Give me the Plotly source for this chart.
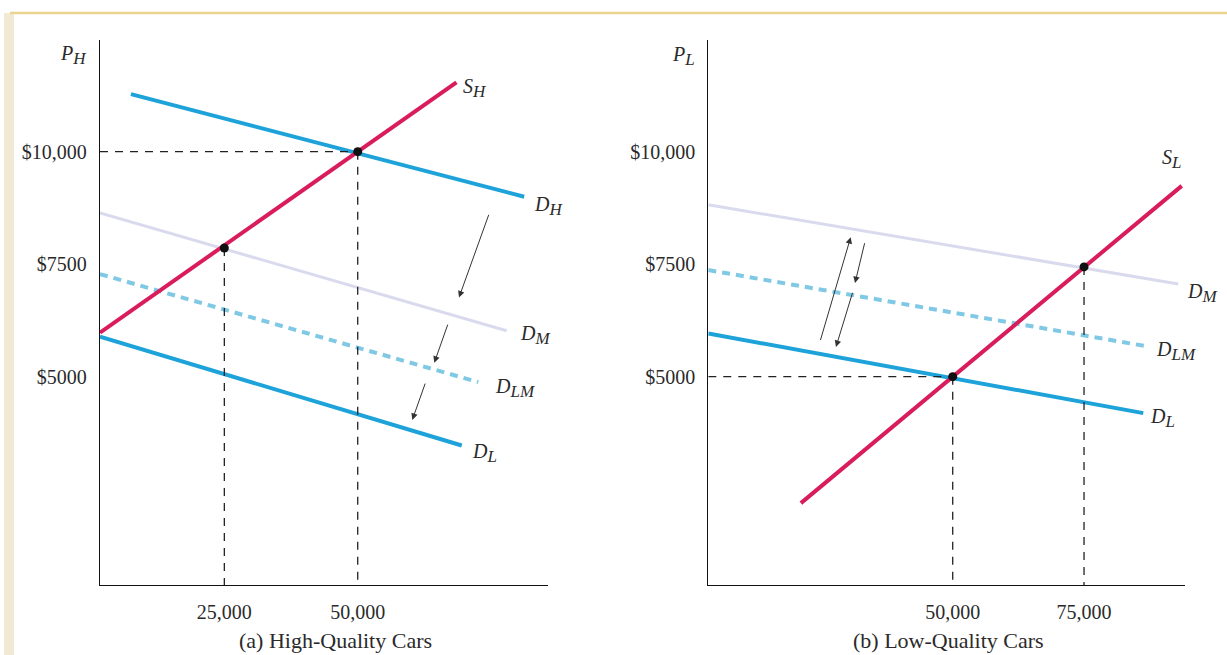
import plotly.graph_objects as go

W, H = 1227, 655

# ---------------- data (cars, dollars) ----------------
# Panel (a) High-Quality Cars
a_SH_x = [1700, 68500];  a_SH_y = [5980, 11540]
a_DH_x = [7500, 81200];  a_DH_y = [11280, 9000]
a_DM_x = [1700, 77900];  a_DM_y = [8640, 6020]
a_DLM_x = [1700, 72600]; a_DLM_y = [7280, 4880]
a_DL_x = [1700, 69500];  a_DL_y = [5890, 3470]
a_eq_x = [25000, 50000]; a_eq_y = [7860, 10000]
# arrows: (start_x, start_y, end_x, end_y)
a_arrows = [(74650, 8630, 68980, 6760),
            (66970, 6190, 64350, 5310),
            (62740, 4880, 60230, 4040)]

# Panel (b) Low-Quality Cars
b_SL_x = [21100, 93600];  b_SL_y = [2190, 9240]
b_DM_x = [3474, 92950];   b_DM_y = [8820, 7060]
b_DLM_x = [3474, 87240];  b_DLM_y = [7370, 5670]
b_DL_x = [3474, 86280];   b_DL_y = [5960, 4190]
b_eq_x = [50000, 75000];  b_eq_y = [5000, 7440]
b_arrows = [(24740, 5780, 30580, 8100),
            (33300, 8000, 31400, 7080),
            (31020, 6900, 27780, 5660)]

y_ticks = [5000, 7500, 10000]
y_ticktext = ["$5000", "$7500", "$10,000"]
a_xticks = [25000, 50000]; a_xticktext = ["25,000", "50,000"]
b_xticks = [50000, 75000]; b_xticktext = ["50,000", "75,000"]

a_xrange = [1700, 85660]
b_xrange = [3474, 94220]
y_range = [371, 12482]

# ---------------- styles ----------------
RED = "#D91C5C"
BLUE = "#1DA3D9"
LAV = "#DADAEE"
LBLUE = "#80C9E4"
FONT = "Liberation Serif"
TXT = "#2a2a2a"

fig = go.Figure()

def add_panel(xa, ya, curves, eq_x, eq_y, yrange_min):
    for (xs, ys, color, width, dash) in curves:
        fig.add_trace(go.Scatter(x=xs, y=ys, mode="lines", xaxis=xa, yaxis=ya,
                                 line=dict(color=color, width=width, dash=dash),
                                 showlegend=False, hoverinfo="skip"))
    for ex, ey in zip(eq_x, eq_y):
        fig.add_trace(go.Scatter(x=[ex, ex], y=[ey, yrange_min], mode="lines",
                                 xaxis=xa, yaxis=ya,
                                 line=dict(color="#222", width=1.3, dash="8px,7px"),
                                 showlegend=False, hoverinfo="skip"))

a_curves = [(a_DM_x, a_DM_y, LAV, 3, "solid"),
            (a_DLM_x, a_DLM_y, LBLUE, 4, "8px,6px"),
            (a_DL_x, a_DL_y, BLUE, 4, "solid"),
            (a_DH_x, a_DH_y, BLUE, 4, "solid"),
            (a_SH_x, a_SH_y, RED, 4, "solid")]
b_curves = [(b_DM_x, b_DM_y, LAV, 3, "solid"),
            (b_DLM_x, b_DLM_y, LBLUE, 4, "8px,6px"),
            (b_DL_x, b_DL_y, BLUE, 4, "solid"),
            (b_SL_x, b_SL_y, RED, 4, "solid")]

add_panel("x", "y", a_curves, a_eq_x, a_eq_y, y_range[0])
add_panel("x2", "y2", b_curves, b_eq_x, b_eq_y, y_range[0])

fig.add_trace(go.Scatter(x=[a_xrange[0], a_eq_x[1]], y=[a_eq_y[1], a_eq_y[1]], mode="lines",
                         line=dict(color="#222", width=1.3, dash="8px,7px"),
                         showlegend=False, hoverinfo="skip"))
fig.add_trace(go.Scatter(x=[b_xrange[0], b_eq_x[0]], y=[b_eq_y[0], b_eq_y[0]], mode="lines",
                         xaxis="x2", yaxis="y2",
                         line=dict(color="#222", width=1.3, dash="8px,7px"),
                         showlegend=False, hoverinfo="skip"))

fig.add_trace(go.Scatter(x=a_eq_x, y=a_eq_y, mode="markers",
                         marker=dict(color="#111", size=9),
                         showlegend=False, hoverinfo="skip"))
fig.add_trace(go.Scatter(x=b_eq_x, y=b_eq_y, mode="markers", xaxis="x2", yaxis="y2",
                         marker=dict(color="#111", size=9),
                         showlegend=False, hoverinfo="skip"))

annotations = []
for (sx, sy, ex, ey) in a_arrows:
    annotations.append(dict(x=ex, y=ey, ax=sx, ay=sy, xref="x", yref="y",
                            axref="x", ayref="y", text="", showarrow=True,
                            arrowhead=2, arrowsize=1.3, arrowwidth=1, arrowcolor="#333"))
for (sx, sy, ex, ey) in b_arrows:
    annotations.append(dict(x=ex, y=ey, ax=sx, ay=sy, xref="x2", yref="y2",
                            axref="x2", ayref="y2", text="", showarrow=True,
                            arrowhead=2, arrowsize=1.3, arrowwidth=1, arrowcolor="#333"))

def lab(text, x, y, xref, yref, xs, ys, anchor="left"):
    annotations.append(dict(text=text, x=x, y=y, xref=xref, yref=yref,
                            xshift=xs, yshift=ys, xanchor=anchor, yanchor="middle",
                            showarrow=False, font=dict(family=FONT, size=20, color=TXT)))

def sub(main, s):
    return f"<i>{main}</i><sub><span style='font-size:17px'><i>{s}</i></span></sub>"

lab(sub("S", "H"), a_SH_x[1], a_SH_y[1], "x", "y", 5, -6)
lab(sub("D", "H"), a_DH_x[1], a_DH_y[1], "x", "y", 8, -9)
lab(sub("D", "M"), a_DM_x[1], a_DM_y[1], "x", "y", 11, -4)
lab(sub("D", "LM"), a_DLM_x[1], a_DLM_y[1], "x", "y", 15, -6)
lab(sub("D", "L"), a_DL_x[1], a_DL_y[1], "x", "y", 8, -7)

lab(sub("S", "L"), b_SL_x[1], b_SL_y[1], "x2", "y2", -10, 27, anchor="center")
lab(sub("D", "M"), b_DM_x[1], b_DM_y[1], "x2", "y2", 7, -9)
lab(sub("D", "LM"), b_DLM_x[1], b_DLM_y[1], "x2", "y2", 6, -4)
lab(sub("D", "L"), b_DL_x[1], b_DL_y[1], "x2", "y2", 5, -5)

def paper(px, py):
    return px / W, 1 - py / H

for text, (px, py) in [(sub("P", "H"), (73, 55)), (sub("P", "L"), (683, 56))]:
    x, y = paper(px, py)
    annotations.append(dict(text=text, x=x, y=y, xref="paper", yref="paper",
                            xanchor="center", yanchor="middle", showarrow=False,
                            font=dict(family=FONT, size=20, color=TXT)))
for text, (px, py) in [("(a) High-Quality Cars", (335, 640)), ("(b) Low-Quality Cars", (948, 640))]:
    x, y = paper(px, py)
    annotations.append(dict(text=text, x=x, y=y, xref="paper", yref="paper",
                            xanchor="center", yanchor="middle", showarrow=False,
                            font=dict(family=FONT, size=22, color=TXT)))

ydom = [(H - 585) / H, (H - 40) / H]
axis_common = dict(showgrid=False, zeroline=False, showline=True, linecolor="#111",
                   linewidth=1.3, ticks="outside", tickcolor="rgba(0,0,0,0)",
                   fixedrange=True)
yfont = dict(family=FONT, size=20, color=TXT)
xfont = dict(family=FONT, size=20, color=TXT)

shapes = [
    dict(type="rect", xref="paper", yref="paper", x0=4 / W, x1=14 / W, y0=0, y1=1 - 13 / H,
         fillcolor="#F2E9D4", line=dict(width=0), layer="below"),
    dict(type="line", xref="paper", yref="paper", x0=10 / W, x1=1, y0=1 - 13 / H, y1=1 - 13 / H,
         line=dict(color="#E9D58E", width=2.5)),
]

fig.update_layout(
    width=W, height=H, margin=dict(l=0, r=0, t=0, b=0),
    paper_bgcolor="white", plot_bgcolor="white",
    xaxis=dict(domain=[100 / W, 548 / W], range=a_xrange, tickvals=a_xticks,
               ticktext=a_xticktext, anchor="y", ticklen=9, tickfont=xfont, **axis_common),
    yaxis=dict(domain=ydom, range=y_range, tickvals=y_ticks, ticktext=y_ticktext,
               anchor="x", ticklen=8, tickfont=yfont, **axis_common),
    xaxis2=dict(domain=[708.3 / W, 1185 / W], range=b_xrange, tickvals=b_xticks,
                ticktext=b_xticktext, anchor="y2", ticklen=9, tickfont=xfont, **axis_common),
    yaxis2=dict(domain=ydom, range=y_range, tickvals=y_ticks, ticktext=y_ticktext,
                anchor="x2", ticklen=8, tickfont=yfont, **axis_common),
    annotations=annotations, shapes=shapes,
)

fig.write_html("out.html", config={"displayModeBar": False},
               post_script="document.body.style.margin='0';document.body.style.overflow='hidden';")
